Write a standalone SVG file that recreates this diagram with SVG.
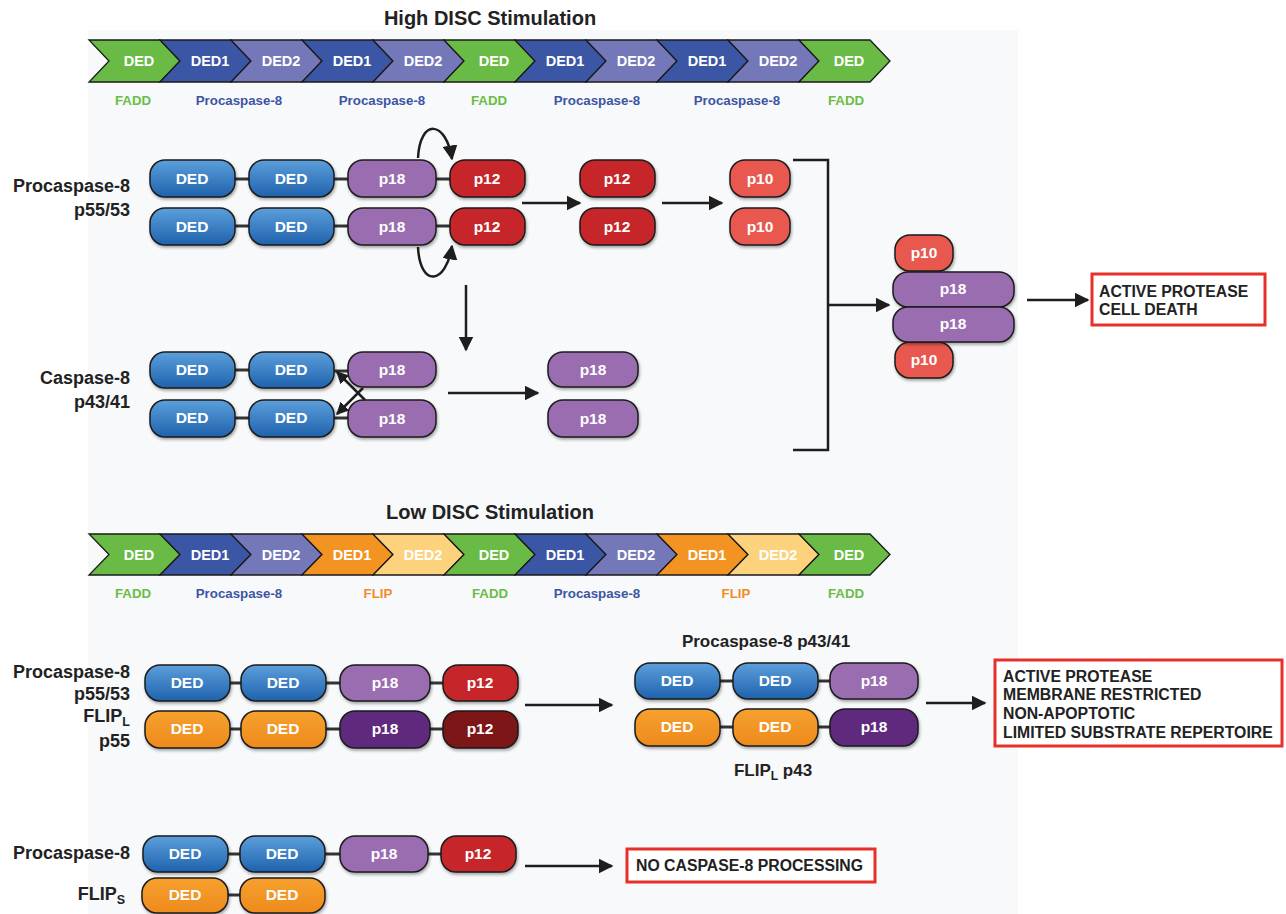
<svg xmlns="http://www.w3.org/2000/svg" width="1286" height="914" viewBox="0 0 1286 914">
<defs>
<linearGradient id="gBlue" x1="0" y1="0" x2="0" y2="1"><stop offset="0" stop-color="#5c9fdb"/><stop offset="1" stop-color="#1f62ad"/></linearGradient>
<linearGradient id="gOrange" x1="0" y1="0" x2="0" y2="1"><stop offset="0" stop-color="#f6a12f"/><stop offset="1" stop-color="#ee8a1c"/></linearGradient>
<filter id="sh" x="-10%" y="-20%" width="125%" height="150%"><feDropShadow dx="1" dy="2" stdDeviation="1.5" flood-color="#000" flood-opacity="0.35"/></filter>
<marker id="ah" viewBox="0 0 10 10" refX="9" refY="5" markerWidth="6" markerHeight="6" markerUnits="strokeWidth" orient="auto"><path d="M0,0 L10,5 L0,10 z" fill="#1e1e1e"/></marker>
<marker id="ahs" viewBox="0 0 10 10" refX="9" refY="5" markerWidth="5" markerHeight="5" markerUnits="strokeWidth" orient="auto"><path d="M0,0 L10,5 L0,10 z" fill="#1e1e1e"/></marker>
</defs>
<style>
text{font-family:"Liberation Sans",Arial,Helvetica,sans-serif;font-weight:bold}
.chev{stroke:#1a1a1a;stroke-width:1.3;stroke-linejoin:miter}
.cg{fill:#69bb45}.cb{fill:#3a56a5}.cl{fill:#7478b8}.co{fill:#f39322}.cy{fill:#fcd27c}
.ct{fill:#fff;font-size:14.5px;text-anchor:middle}
.lg{fill:#6abd46;font-size:13.3px;text-anchor:middle}
.lb{fill:#3d55a3;font-size:13.3px;text-anchor:middle}
.lo{fill:#f28c28;font-size:13.3px;text-anchor:middle}
.title{fill:#222;font-size:20px;text-anchor:middle}
.sub{fill:#222;font-size:17px;text-anchor:middle}
.lab{fill:#222;font-size:18px;text-anchor:end}
.pill{stroke:#1b1b1b;stroke-width:1.5;filter:url(#sh)}
.ded{fill:url(#gBlue)}.fded{fill:url(#gOrange)}
.p18{fill:#9a6db0}.p18d{fill:#5e2c7e}.p12{fill:#c6282b}.p12d{fill:#7d1618}.p10{fill:#e8584f}
.pt{fill:#fff;font-size:15.5px;text-anchor:middle}
.lk{stroke:#333;stroke-width:3}
.ar{stroke:#1e1e1e;stroke-width:2.5;fill:none}
.box{fill:#fff;stroke:#e8302a;stroke-width:3}
.bt{fill:#222;font-size:15.8px}
</style>
<rect x="0" y="0" width="1286" height="914" fill="#fff"/>
<rect x="88" y="30" width="930" height="884" fill="#f8f9fb"/>

<g id="high-title"><text class="title" x="490" y="25">High DISC Stimulation</text></g>

<g id="high-disc">
<polygon class="chev cg" points="89,40 160,40 180,61 160,82 89,82 109,61"/><text class="ct" x="139" y="66">DED</text>
<polygon class="chev cb" points="160,40 231,40 251,61 231,82 160,82 180,61"/><text class="ct" x="210" y="66">DED1</text>
<polygon class="chev cl" points="231,40 302,40 322,61 302,82 231,82 251,61"/><text class="ct" x="281" y="66">DED2</text>
<polygon class="chev cb" points="302,40 373,40 393,61 373,82 302,82 322,61"/><text class="ct" x="352" y="66">DED1</text>
<polygon class="chev cl" points="373,40 444,40 464,61 444,82 373,82 393,61"/><text class="ct" x="423" y="66">DED2</text>
<polygon class="chev cg" points="444,40 515,40 535,61 515,82 444,82 464,61"/><text class="ct" x="494" y="66">DED</text>
<polygon class="chev cb" points="515,40 586,40 606,61 586,82 515,82 535,61"/><text class="ct" x="565" y="66">DED1</text>
<polygon class="chev cl" points="586,40 657,40 677,61 657,82 586,82 606,61"/><text class="ct" x="636" y="66">DED2</text>
<polygon class="chev cb" points="657,40 728,40 748,61 728,82 657,82 677,61"/><text class="ct" x="707" y="66">DED1</text>
<polygon class="chev cl" points="728,40 799,40 819,61 799,82 728,82 748,61"/><text class="ct" x="778" y="66">DED2</text>
<polygon class="chev cg" points="799,40 870,40 890,61 870,82 799,82 819,61"/><text class="ct" x="849" y="66">DED</text>
<text class="lg" x="133" y="105">FADD</text>
<text class="lb" x="239" y="105">Procaspase-8</text>
<text class="lb" x="382" y="105">Procaspase-8</text>
<text class="lg" x="489" y="105">FADD</text>
<text class="lb" x="597" y="105">Procaspase-8</text>
<text class="lb" x="737" y="105">Procaspase-8</text>
<text class="lg" x="846" y="105">FADD</text>
</g>

<g id="procasp8-high">
<text class="lab" x="130" y="192">Procaspase-8</text>
<text class="lab" x="130" y="216">p55/53</text>
<line class="lk" x1="235" y1="179" x2="249" y2="179"/><line class="lk" x1="334" y1="179" x2="348" y2="179"/><line class="lk" x1="436" y1="179" x2="450" y2="179"/>
<line class="lk" x1="235" y1="226" x2="249" y2="226"/><line class="lk" x1="334" y1="226" x2="348" y2="226"/><line class="lk" x1="436" y1="226" x2="450" y2="226"/>
<rect class="pill ded" x="150" y="160" width="85" height="37" rx="15"/><text class="pt" x="192" y="184">DED</text>
<rect class="pill ded" x="249" y="160" width="85" height="37" rx="15"/><text class="pt" x="291" y="184">DED</text>
<rect class="pill p18" x="348" y="160" width="88" height="37" rx="15"/><text class="pt" x="392" y="184">p18</text>
<rect class="pill p12" x="450" y="160" width="75" height="37" rx="15"/><text class="pt" x="487" y="184">p12</text>
<rect class="pill ded" x="150" y="208" width="85" height="37" rx="15"/><text class="pt" x="192" y="232">DED</text>
<rect class="pill ded" x="249" y="208" width="85" height="37" rx="15"/><text class="pt" x="291" y="232">DED</text>
<rect class="pill p18" x="348" y="208" width="88" height="37" rx="15"/><text class="pt" x="392" y="232">p18</text>
<rect class="pill p12" x="450" y="208" width="75" height="37" rx="15"/><text class="pt" x="487" y="232">p12</text>
</g>

<g id="p12-free">
<rect class="pill p12" x="580" y="160" width="75" height="37" rx="15"/><text class="pt" x="617" y="184">p12</text>
<rect class="pill p12" x="580" y="208" width="75" height="37" rx="15"/><text class="pt" x="617" y="232">p12</text>
</g>

<g id="p10-free">
<rect class="pill p10" x="730" y="160" width="60" height="37" rx="15"/><text class="pt" x="760" y="184">p10</text>
<rect class="pill p10" x="730" y="208" width="60" height="37" rx="15"/><text class="pt" x="760" y="232">p10</text>
</g>

<g id="casp8">
<text class="lab" x="130" y="384">Caspase-8</text>
<text class="lab" x="130" y="408">p43/41</text>
<line class="lk" x1="235" y1="370" x2="249" y2="370"/><line class="lk" x1="334" y1="371" x2="348" y2="371"/>
<line class="lk" x1="235" y1="418" x2="249" y2="418"/><line class="lk" x1="334" y1="418" x2="348" y2="418"/>
<rect class="pill ded" x="150" y="352" width="85" height="36" rx="15"/><text class="pt" x="192" y="375">DED</text>
<rect class="pill ded" x="249" y="352" width="85" height="36" rx="15"/><text class="pt" x="291" y="375">DED</text>
<rect class="pill p18" x="348" y="352" width="88" height="35" rx="15"/><text class="pt" x="392" y="375">p18</text>
<rect class="pill ded" x="150" y="400" width="85" height="37" rx="15"/><text class="pt" x="192" y="423">DED</text>
<rect class="pill ded" x="249" y="400" width="85" height="37" rx="15"/><text class="pt" x="291" y="423">DED</text>
<rect class="pill p18" x="348" y="400" width="88" height="37" rx="15"/><text class="pt" x="392" y="424">p18</text>
</g>

<g id="p18-free">
<rect class="pill p18" x="548" y="352" width="90" height="35" rx="15"/><text class="pt" x="593" y="375">p18</text>
<rect class="pill p18" x="548" y="400" width="90" height="37" rx="15"/><text class="pt" x="593" y="424">p18</text>
</g>

<g id="active-complex">
<rect class="pill p10" x="895" y="235" width="58" height="36" rx="15"/><text class="pt" x="924" y="258">p10</text>
<rect class="pill p10" x="895" y="342" width="58" height="36" rx="15"/><text class="pt" x="924" y="365">p10</text>
<rect class="pill p18" x="893" y="272" width="121" height="35" rx="15"/><text class="pt" x="953" y="294">p18</text>
<rect class="pill p18" x="893" y="307" width="121" height="35" rx="15"/><text class="pt" x="953" y="329">p18</text>
</g>

<g id="out-death">
<rect class="box" x="1092" y="274" width="173" height="51"/>
<text class="bt" x="1099" y="297">ACTIVE PROTEASE</text>
<text class="bt" x="1099" y="315">CELL DEATH</text>
</g>

<g id="low-title"><text class="title" x="490" y="519">Low DISC Stimulation</text></g>

<g id="low-disc">
<polygon class="chev cg" points="89,534 160,534 180,554.5 160,575 89,575 109,554.5"/><text class="ct" x="139" y="559.5">DED</text>
<polygon class="chev cb" points="160,534 231,534 251,554.5 231,575 160,575 180,554.5"/><text class="ct" x="210" y="559.5">DED1</text>
<polygon class="chev cl" points="231,534 302,534 322,554.5 302,575 231,575 251,554.5"/><text class="ct" x="281" y="559.5">DED2</text>
<polygon class="chev co" points="302,534 373,534 393,554.5 373,575 302,575 322,554.5"/><text class="ct" x="352" y="559.5">DED1</text>
<polygon class="chev cy" points="373,534 444,534 464,554.5 444,575 373,575 393,554.5"/><text class="ct" x="423" y="559.5">DED2</text>
<polygon class="chev cg" points="444,534 515,534 535,554.5 515,575 444,575 464,554.5"/><text class="ct" x="494" y="559.5">DED</text>
<polygon class="chev cb" points="515,534 586,534 606,554.5 586,575 515,575 535,554.5"/><text class="ct" x="565" y="559.5">DED1</text>
<polygon class="chev cl" points="586,534 657,534 677,554.5 657,575 586,575 606,554.5"/><text class="ct" x="636" y="559.5">DED2</text>
<polygon class="chev co" points="657,534 728,534 748,554.5 728,575 657,575 677,554.5"/><text class="ct" x="707" y="559.5">DED1</text>
<polygon class="chev cy" points="728,534 799,534 819,554.5 799,575 728,575 748,554.5"/><text class="ct" x="778" y="559.5">DED2</text>
<polygon class="chev cg" points="799,534 870,534 890,554.5 870,575 799,575 819,554.5"/><text class="ct" x="849" y="559.5">DED</text>
<text class="lg" x="133" y="598">FADD</text>
<text class="lb" x="239" y="598">Procaspase-8</text>
<text class="lo" x="378" y="598">FLIP</text>
<text class="lg" x="490" y="598">FADD</text>
<text class="lb" x="597" y="598">Procaspase-8</text>
<text class="lo" x="736" y="598">FLIP</text>
<text class="lg" x="846" y="598">FADD</text>
</g>

<g id="procasp8-flipl">
<text class="lab" x="130" y="678">Procaspase-8</text>
<text class="lab" x="130" y="700">p55/53</text>
<text class="lab" x="130" y="722">FLIP<tspan font-size="12.5" dy="4">L</tspan></text>
<text class="lab" x="130" y="747">p55</text>
<line class="lk" x1="230" y1="683" x2="241" y2="683"/><line class="lk" x1="326" y1="683" x2="340" y2="683"/><line class="lk" x1="430" y1="683" x2="443" y2="683"/>
<line class="lk" x1="230" y1="729" x2="241" y2="729"/><line class="lk" x1="326" y1="729" x2="340" y2="729"/><line class="lk" x1="430" y1="729" x2="443" y2="729"/>
<rect class="pill ded" x="145" y="665" width="85" height="36" rx="15"/><text class="pt" x="187" y="688">DED</text>
<rect class="pill ded" x="241" y="665" width="85" height="36" rx="15"/><text class="pt" x="283" y="688">DED</text>
<rect class="pill p18" x="340" y="665" width="90" height="36" rx="15"/><text class="pt" x="385" y="688">p18</text>
<rect class="pill p12" x="443" y="665" width="75" height="36" rx="15"/><text class="pt" x="480" y="688">p12</text>
<rect class="pill fded" x="145" y="711" width="85" height="37" rx="15"/><text class="pt" x="187" y="734">DED</text>
<rect class="pill fded" x="241" y="711" width="85" height="37" rx="15"/><text class="pt" x="283" y="734">DED</text>
<rect class="pill p18d" x="340" y="711" width="90" height="37" rx="15"/><text class="pt" x="385" y="734">p18</text>
<rect class="pill p12d" x="443" y="711" width="75" height="37" rx="15"/><text class="pt" x="480" y="734">p12</text>
</g>

<g id="processed-p43">
<text class="sub" x="766" y="647">Procaspase-8 p43/41</text>
<text class="sub" x="773" y="776">FLIP<tspan font-size="12" dy="4">L</tspan><tspan dy="-4"> p43</tspan></text>
<line class="lk" x1="720" y1="681" x2="733" y2="681"/><line class="lk" x1="818" y1="681" x2="830" y2="681"/>
<line class="lk" x1="720" y1="727" x2="733" y2="727"/><line class="lk" x1="818" y1="727" x2="830" y2="727"/>
<rect class="pill ded" x="635" y="663" width="85" height="36" rx="15"/><text class="pt" x="677" y="686">DED</text>
<rect class="pill ded" x="733" y="663" width="85" height="36" rx="15"/><text class="pt" x="775" y="686">DED</text>
<rect class="pill p18" x="830" y="663" width="88" height="36" rx="15"/><text class="pt" x="874" y="686">p18</text>
<rect class="pill fded" x="635" y="709" width="85" height="37" rx="15"/><text class="pt" x="677" y="732">DED</text>
<rect class="pill fded" x="733" y="709" width="85" height="37" rx="15"/><text class="pt" x="775" y="732">DED</text>
<rect class="pill p18d" x="830" y="709" width="88" height="37" rx="15"/><text class="pt" x="874" y="732">p18</text>
</g>

<g id="out-nonapop">
<rect class="box" x="995" y="660" width="287" height="86"/>
<text class="bt" x="1003" y="682">ACTIVE PROTEASE</text>
<text class="bt" x="1003" y="700">MEMBRANE RESTRICTED</text>
<text class="bt" x="1003" y="719">NON-APOPTOTIC</text>
<text class="bt" x="1003" y="738">LIMITED SUBSTRATE REPERTOIRE</text>
</g>

<g id="procasp8-flips">
<text class="lab" x="130" y="859">Procaspase-8</text>
<text class="lab" x="125" y="900">FLIP<tspan font-size="12.5" dy="4">S</tspan></text>
<line class="lk" x1="228" y1="854" x2="240" y2="854"/><line class="lk" x1="325" y1="854" x2="340" y2="854"/><line class="lk" x1="428" y1="854" x2="441" y2="854"/>
<line class="lk" x1="228" y1="895" x2="240" y2="895"/>
<rect class="pill ded" x="143" y="836" width="85" height="36" rx="15"/><text class="pt" x="185" y="859">DED</text>
<rect class="pill ded" x="240" y="836" width="85" height="36" rx="15"/><text class="pt" x="282" y="859">DED</text>
<rect class="pill p18" x="340" y="836" width="88" height="36" rx="15"/><text class="pt" x="384" y="859">p18</text>
<rect class="pill p12" x="441" y="836" width="75" height="36" rx="15"/><text class="pt" x="478" y="859">p12</text>
<rect class="pill fded" x="142" y="878" width="86" height="35" rx="15"/><text class="pt" x="185" y="900">DED</text>
<rect class="pill fded" x="240" y="878" width="85" height="35" rx="15"/><text class="pt" x="282" y="900">DED</text>
</g>

<g id="out-noproc">
<rect class="box" x="627" y="849" width="248" height="33"/>
<text class="bt" x="636" y="871">NO CASPASE-8 PROCESSING</text>
</g>

<g id="connectors">
<path class="ar" d="M418,158 C420,118 446,120 452,159" marker-end="url(#ah)"/>
<path class="ar" d="M418,247 C420,288 446,285 452,246" marker-end="url(#ah)"/>
<line class="ar" x1="522" y1="203" x2="580" y2="203" marker-end="url(#ah)"/>
<line class="ar" x1="662" y1="203" x2="722" y2="203" marker-end="url(#ah)"/>
<line class="ar" x1="466" y1="285" x2="466" y2="350" marker-end="url(#ah)"/>
<line class="ar" x1="365" y1="400" x2="337" y2="372" marker-end="url(#ahs)"/>
<line class="ar" x1="363" y1="388" x2="337" y2="414" marker-end="url(#ahs)"/>
<line class="ar" x1="448" y1="393" x2="538" y2="393" marker-end="url(#ah)"/>
<polyline class="ar" points="793,160 828,160 828,450 793,450"/>
<line class="ar" x1="828" y1="305" x2="889" y2="305" marker-end="url(#ah)"/>
<line class="ar" x1="1027" y1="300" x2="1088" y2="300" marker-end="url(#ah)"/>
<line class="ar" x1="525" y1="705" x2="612" y2="705" marker-end="url(#ah)"/>
<line class="ar" x1="926" y1="703" x2="985" y2="703" marker-end="url(#ah)"/>
<line class="ar" x1="525" y1="866" x2="612" y2="866" marker-end="url(#ah)"/>
</g>
</svg>
